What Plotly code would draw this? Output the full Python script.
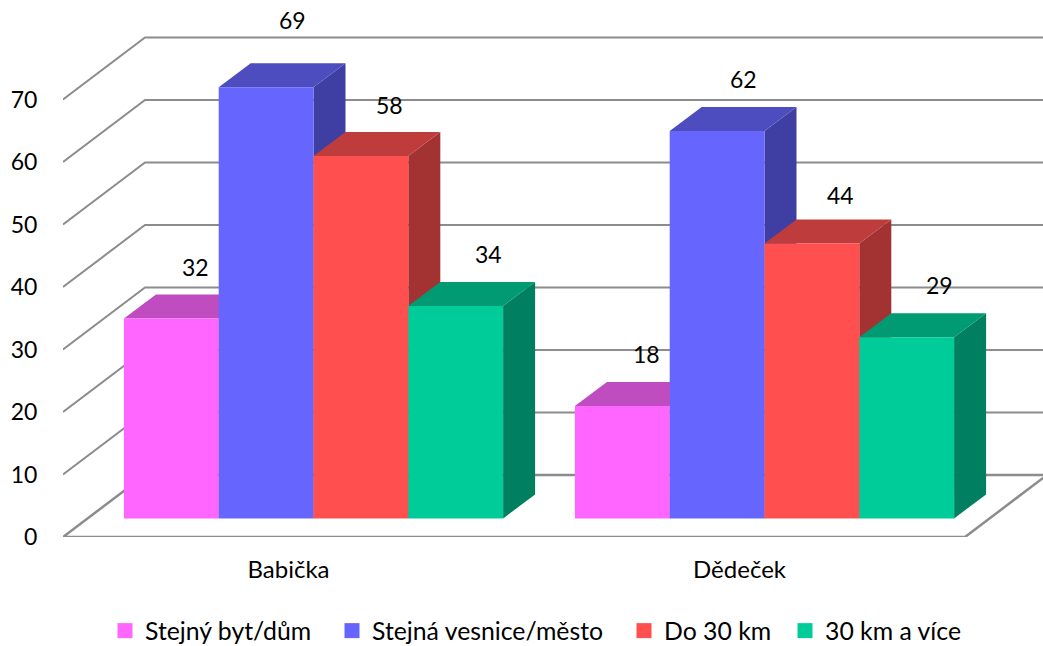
import plotly.graph_objects as go

categories = ["Babička", "Dědeček"]
series_names = ["Stejný byt/dům", "Stejná vesnice/město", "Do 30 km", "30 km a více"]
stejny_byt = [32, 18]
stejna_vesnice = [69, 62]
do_30 = [58, 44]
nad_30 = [34, 29]
y_ticks = [0, 10, 20, 30, 40, 50, 60, 70]

series = [stejny_byt, stejna_vesnice, do_30, nad_30]
front = ["#FF66FF", "#6666FF", "#FF4F4F", "#00CC99"]
top = ["#C04DC0", "#4D4DC0", "#BF3C3C", "#009A73"]
side = ["#A341A3", "#3F3FA3", "#A33333", "#008060"]

W, H = 1043, 646
ML, MB = 63, 109
PXX = 451.0
PXY = 6.25
X0 = -0.5
XR = X0 + (W - ML) / PXX
R0 = 0.0
R1 = (H - MB) / PXY
BASE = 18.6 / PXY
bar_w = 94.8 / PXX
shift = 25 / PXX
dx, dy = 32 / PXX, 24 / PXY
wall_dx, wall_dy = 82 / PXX, 62 / PXY
label_dx = [24, 26, 29, 33]
label_dy = [51, 67, 51, 52, 52, 52, 48, 52]
legend_left = [105, 332, 624, 785]

fig = go.Figure()

gx, gy = [], []
for v in y_ticks[1:]:
    gx += [X0, X0 + wall_dx, XR, None]
    gy += [v, v + wall_dy, v + wall_dy, None]
fig.add_trace(go.Scatter(x=gx, y=gy, mode="lines", line=dict(color="#8C8C8C", width=2),
                         showlegend=False, hoverinfo="skip"))
fig.add_trace(go.Scatter(x=[X0 + wall_dx, X0, 1.5, 1.5 + wall_dx, X0 + wall_dx],
                         y=[wall_dy, 0, 0, wall_dy, wall_dy], mode="lines",
                         line=dict(color="#8C8C8C", width=2.5), showlegend=False, hoverinfo="skip"))

for g in range(len(categories)):
    for i, vals in enumerate(series):
        v = vals[g]
        x0 = g + shift + (i - 2) * bar_w
        x1 = x0 + bar_w
        fig.add_trace(go.Scatter(x=[x1, x1, x1 + dx, x1 + dx, x1], y=[0, v, v + dy, dy, 0],
                                 yaxis="y2", mode="lines", fill="toself", fillcolor=side[i],
                                 line=dict(width=0), showlegend=False, hoverinfo="skip"))
        fig.add_trace(go.Scatter(x=[x0, x1, x1 + dx, x0 + dx, x0], y=[v, v, v + dy, v + dy, v],
                                 yaxis="y2", mode="lines", fill="toself", fillcolor=top[i],
                                 line=dict(width=0), showlegend=False, hoverinfo="skip"))

legend_ids = ["legend", "legend2", "legend3", "legend4"]
for i, vals in enumerate(series):
    fig.add_trace(go.Bar(x=[0, 1], y=vals, name=series_names[i], yaxis="y3",
                         width=bar_w, offset=shift + (i - 2) * bar_w, showlegend=False,
                         marker=dict(color=front[i], line=dict(width=0))))
    fig.add_trace(go.Scatter(x=[None], y=[None], name=series_names[i], yaxis="y3", mode="markers",
                             legend=legend_ids[i], showlegend=True, hoverinfo="skip",
                             marker=dict(symbol="square", size=15, color=front[i])))

digit_font = dict(family="Lato", size=23, color="#000000")
k = 0
for g in range(len(categories)):
    for i, vals in enumerate(series):
        fig.add_annotation(x=g + shift + (i - 1.5) * bar_w, y=vals[g], xref="x", yref="y3",
                           text=str(vals[g]), showarrow=False, xshift=label_dx[i], yshift=label_dy[k],
                           font=digit_font)
        k += 1

cat_font = dict(family="Lato", size=24, color="#000000")
leg_font = dict(family="Lato", size=24.8, color="#000000")
plot_h = H - MB
plot_w = W - ML
layout_legends = {}
for i, lid in enumerate(legend_ids):
    layout_legends[lid] = dict(x=(legend_left[i] - 63) / plot_w, xanchor="left",
                               y=-(631 - 537) / plot_h, yanchor="middle", font=leg_font,
                               itemsizing="trace", itemclick=False, itemdoubleclick=False,
                               bgcolor="rgba(0,0,0,0)")

fig.update_layout(
    width=W, height=H, autosize=False,
    margin=dict(l=ML, r=0, t=0, b=MB, pad=0, autoexpand=False),
    paper_bgcolor="white", plot_bgcolor="white",
    showlegend=True, barmode="overlay",
    xaxis=dict(range=[X0, XR], tickmode="array", tickvals=[0, 1], ticktext=categories,
               showgrid=False, zeroline=False, showline=False, ticks="outside", ticklen=11,
               tickcolor="rgba(0,0,0,0)", tickfont=cat_font),
    yaxis=dict(range=[R0, R1], tickmode="array", tickvals=y_ticks, showgrid=False, zeroline=False,
               showline=False, ticks="outside", ticklen=20, tickcolor="rgba(0,0,0,0)", tickfont=digit_font),
    yaxis2=dict(range=[R0 - BASE, R1 - BASE], overlaying="y", visible=False),
    yaxis3=dict(range=[R0 - BASE, R1 - BASE], overlaying="y", visible=False),
    **layout_legends,
)
fig.write_html("out.html", config={"displayModeBar": False},
               post_script="document.body.style.margin='0';document.body.style.overflow='hidden';")
